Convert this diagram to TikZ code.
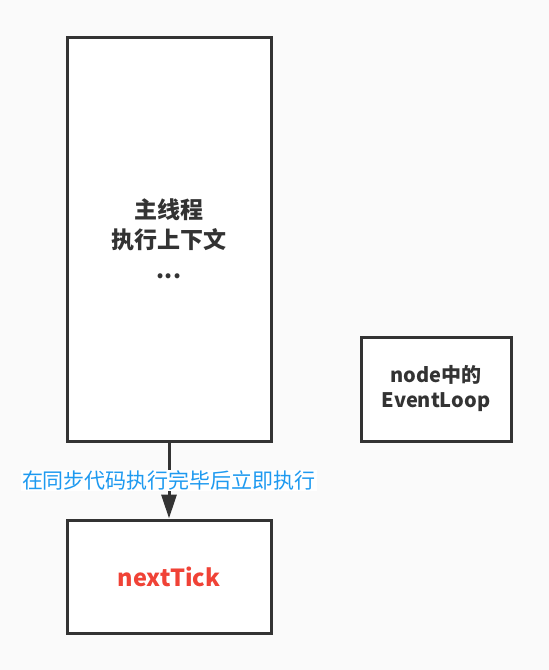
\documentclass[tikz,border=0pt]{standalone}
\usepackage{fontspec}
\newfontfamily\cjk{Noto Sans CJK SC}
\usetikzlibrary{arrows.meta}
\usetikzlibrary{positioning}
\definecolor{boxline}{HTML}{333333}
\definecolor{labelblue}{HTML}{1E9AF0}
\definecolor{tickred}{HTML}{F04236}
\definecolor{paper}{HTML}{FAFAFA}

\begin{document}
\begin{tikzpicture}[x=1pt,y=-1pt,->,>={Triangle[length=24pt,width=15pt]},
	       line width=3pt,draw=boxline,
	       main box/.style={rectangle, fill=white, draw=boxline, align=center, text=boxline,
	         font=\cjk\bfseries, inner sep=0pt},
	       note/.style={fill=white, text=labelblue, font=\cjk\fontsize{21}{24}\selectfont, inner sep=1pt}]

	      \fill[paper] (0,0) rectangle (549,670);
	      \useasboundingbox (0,0) rectangle (549,670);

	      \node[main box, minimum width=204pt, minimum height=404pt,
	            font=\cjk\bfseries\fontsize{23}{30}\selectfont] at (169,239) (thread) {主线程\\ 执行上下文\\ ...};
	      \node[main box, minimum width=150pt, minimum height=104pt,
	            font=\cjk\bfseries\fontsize{20}{25}\selectfont] at (436,389) (loop) {node中的\\ EventLoop};
	      \node[main box, minimum width=204pt, minimum height=113pt, text=tickred,
	            font=\cjk\bfseries\fontsize{23.5}{26}\selectfont] at (169,576.5) (tick) {nextTick};
	      \path
	      (thread) edge [draw=boxline, shorten >=0pt] node[note, pos=0.5] {在同步代码执行完毕后立即执行} (tick)
	      ;

	    \end{tikzpicture}
\end{document}
